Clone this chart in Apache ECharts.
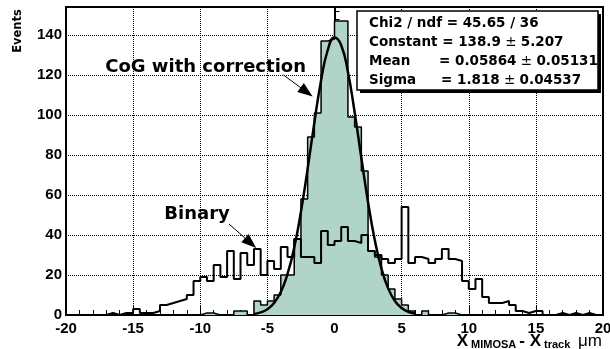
<!DOCTYPE html>
<html><head><meta charset="utf-8">
<script src="https://cdn.jsdelivr.net/npm/echarts@6/dist/echarts.min.js"></script>
<style>html,body{margin:0;padding:0;background:#fff}#c{width:610px;height:349px}</style>
</head><body><div id="c"></div>
<script>
// ---- data (bins of 0.5 um from -20 to 20) ----
const binLow = -20;
const binWidth = 0.5;
const binaryCounts = [
  0,0,0,0,0,0,1,0,1,1,      // -20 .. -15.5
  3,1,1,2,5,6,7,8,10,17,    // -15 .. -10.5
  19,17,25,19,32,18,31,25,33,20, // -10 .. -5.5
  27,23,34,29,38,29,29,26,42,35, // -5 .. -0.5
  37,44,37,36,40,32,30,28,26,28, // 0 .. 4.5
  54,26,29,28,26,28,33,28,27,17, // 5 .. 9.5
  13,18,9,6,6,7,5,2,1,2,    // 10 .. 14.5
  2,0,0,1,0,1,0,1,0,0       // 15 .. 19.5
];
const cogCounts = [
  0,0,0,0,0,0,0,0,0,0,      // -20 .. -15.5
  0,0,0,0,0,0,0,0,0,0,      // -15 .. -10.5
  1,1,0,0,0,2,2,0,7,5,      // -10 .. -5.5
  7,10,20,20,38,58,89,101,137,138, // -5 .. -0.5
  147,147,99,94,72,32,29,20,13,8,  // 0 .. 4.5
  5,2,0,2,0,0,1,1,0,0,      // 5 .. 9.5
  0,0,0,0,0,0,0,0,0,0,      // 10 .. 14.5
  0,0,0,0,0,0,0,0,0,0       // 15 .. 19.5
];
const fitX = [-6,-5.5,-5,-4.5,-4,-3.5,-3,-2.5,-2,-1.5,-1,-0.5,0,0.5,1,1.5,2,2.5,3,3.5,4,4.5,5,5.5,6];
const fitY = [0.5,1.3,2.9,6.0,11.5,20.5,33.7,51.6,73.2,96.2,117.3,132.5,138.8,134.9,121.5,101.4,78.5,56.4,37.5,23.2,13.3,7.0,3.5,1.6,0.7];
const xTickLabels = [-20,-15,-10,-5,0,5,10,15,20];
const yTickLabels = [0,20,40,60,80,100,120,140];
const statsRows = [
  ['Chi2 / ndf = 45.65 / 36', ''],
  ['Constant = 138.9', '5.207'],
  ['Mean', '= 0.05864', '0.05131'],
  ['Sigma', '= 1.818', '0.04537']
];
const cogArrow = [[-3.8, 120], [-2.08, 111.5]];
const binArrow = [[-7.86, 45.5], [-6.25, 36]];
const cogLabelPos = [-9.6, 124];
const binLabelPos = [-10.24, 50.5];

const FONT = 'DejaVu Sans';
const TICKFONT = 'Liberation Sans';
function stepData(counts) {
  const d = counts.map((v, i) => [binLow + i * binWidth, v]);
  d.push([binLow + counts.length * binWidth, counts[counts.length - 1]]);
  return d;
}
const chart = echarts.init(document.getElementById('c'), null, {renderer: 'canvas'});
const labelStyle = {color: '#000', fontFamily: TICKFONT, fontWeight: 'bold', fontSize: 15};
chart.setOption({
  animation: false,
  backgroundColor: '#fff',
  grid: {left: 66, right: 7, top: 7, bottom: 34, show: true, borderColor: '#000', borderWidth: 2,
         containLabel: false, outerBoundsMode: 'none'},
  xAxis: {
    type: 'value', min: xTickLabels[0], max: xTickLabels[xTickLabels.length - 1], interval: 5,
    axisLine: {show: true, lineStyle: {color: '#000', width: 2}},
    axisTick: {show: true, inside: true, length: 9, lineStyle: {color: '#000', width: 1}},
    minorTick: {show: true, splitNumber: 5, length: 5, lineStyle: {color: '#000', width: 1}},
    splitLine: {show: true, lineStyle: {color: '#000', width: 1, type: 'dotted'}},
    axisLabel: Object.assign({margin: 6, formatter: v => String(v)}, labelStyle)
  },
  yAxis: {
    type: 'value', min: 0, max: 154, interval: 20,
    axisLine: {show: true, lineStyle: {color: '#000', width: 2}},
    axisTick: {show: true, inside: true, length: 9, lineStyle: {color: '#000', width: 1}},
    minorTick: {show: true, splitNumber: 5, length: 5, lineStyle: {color: '#000', width: 1}},
    splitLine: {show: true, lineStyle: {color: '#000', width: 1, type: 'dotted'}},
    axisLabel: Object.assign({margin: 4, showMaxLabel: false,
      formatter: v => (yTickLabels.indexOf(v) >= 0 ? String(v) : '')}, labelStyle)
  },
  series: [
    {type: 'line', name: 'CoG', step: 'end', data: stepData(cogCounts), symbol: 'none', z: 2,
     lineStyle: {color: '#000', width: 1.5}, areaStyle: {color: '#b0d4c8', opacity: 1}},
    {type: 'line', name: 'Binary', step: 'end', data: stepData(binaryCounts), symbol: 'none', z: 3,
     lineStyle: {color: '#000', width: 2},
     markLine: {silent: true, symbol: ['none', 'triangle'], symbolSize: [11, 15],
       lineStyle: {color: '#000', width: 1, type: 'solid'}, label: {show: false},
       data: [[{coord: cogArrow[0]}, {coord: cogArrow[1]}], [{coord: binArrow[0]}, {coord: binArrow[1]}]]}},
    {type: 'line', name: 'Fit', smooth: true, data: fitX.map((x, i) => [x, fitY[i]]), symbol: 'none', z: 4,
     lineStyle: {color: '#000', width: 2.5}}
  ]
});

function px(p) { return chart.convertToPixel({gridIndex: 0}, p); }
const cl = px(cogLabelPos), bl = px(binLabelPos);
const annStyle = {fontFamily: FONT, fontWeight: 'bold', fontSize: 18, fill: '#000', align: 'center', verticalAlign: 'middle'};
const statFont = {fontFamily: FONT, fontWeight: 'bold', fontSize: 13.5, fill: '#000', verticalAlign: 'middle'};
const rich = {
  b: {fontFamily: FONT, fontWeight: 'bold', fontSize: 13.5, fill: '#000'},
  n: {fontFamily: FONT, fontWeight: 'normal', fontSize: 13.5, fill: '#000'}
};
const statTexts = [];
const lineY = [23, 42, 61, 80];
statsRows.forEach((r, i) => {
  if (i === 0) statTexts.push({type: 'text', x: 369, y: lineY[i], style: Object.assign({text: r[0]}, statFont)});
  else if (i === 1) statTexts.push({type: 'text', x: 369, y: lineY[i], style: Object.assign({text: '{b|' + r[0] + '}{n| ± }{b|' + r[1] + '}', rich}, statFont)});
  else {
    statTexts.push({type: 'text', x: 369, y: lineY[i], style: Object.assign({text: r[0]}, statFont)});
    statTexts.push({type: 'text', x: i === 2 ? 439 : 441, y: lineY[i], style: Object.assign({text: '{b|' + r[1] + '}{n| ± }{b|' + r[2] + '}', rich}, statFont)});
  }
});
chart.setOption({
  graphic: [
    {type: 'text', x: cl[0], y: cl[1], style: Object.assign({text: 'CoG with correction'}, annStyle), z: 10},
    {type: 'text', x: bl[0], y: bl[1], style: Object.assign({text: 'Binary'}, annStyle), z: 10},
    {type: 'rect', shape: {x: 360, y: 14, width: 241, height: 79}, style: {fill: '#000'}, z: 10},
    {type: 'rect', shape: {x: 357, y: 11, width: 241, height: 79}, style: {fill: '#fff', stroke: '#000', lineWidth: 1.5}, z: 11},
    ...statTexts.map(t => Object.assign(t, {z: 12})),
    {type: 'text', x: 18, y: 31, rotation: Math.PI / 2,
     style: {text: 'Events', fontFamily: FONT, fontWeight: 'bold', fontSize: 11.5, fill: '#000', align: 'center', verticalAlign: 'middle'}},
    {type: 'text', x: 602, y: 333, z: 10,
     style: {text: '{x|X}{s|MIMOSA}{x|- X}{s|track}{u| μm}', align: 'right', verticalAlign: 'top',
       rich: {
         x: {fontFamily: TICKFONT, fontWeight: 'bold', fontSize: 17, lineHeight: 16, fill: '#000'},
         s: {fontFamily: TICKFONT, fontWeight: 'bold', fontSize: 11, lineHeight: 12, padding: [8, 3, 0, 3], fill: '#000'},
         u: {fontFamily: TICKFONT, fontWeight: 'normal', fontSize: 17, lineHeight: 16, fill: '#000'}
       }}}
  ]
});
</script></body></html>
